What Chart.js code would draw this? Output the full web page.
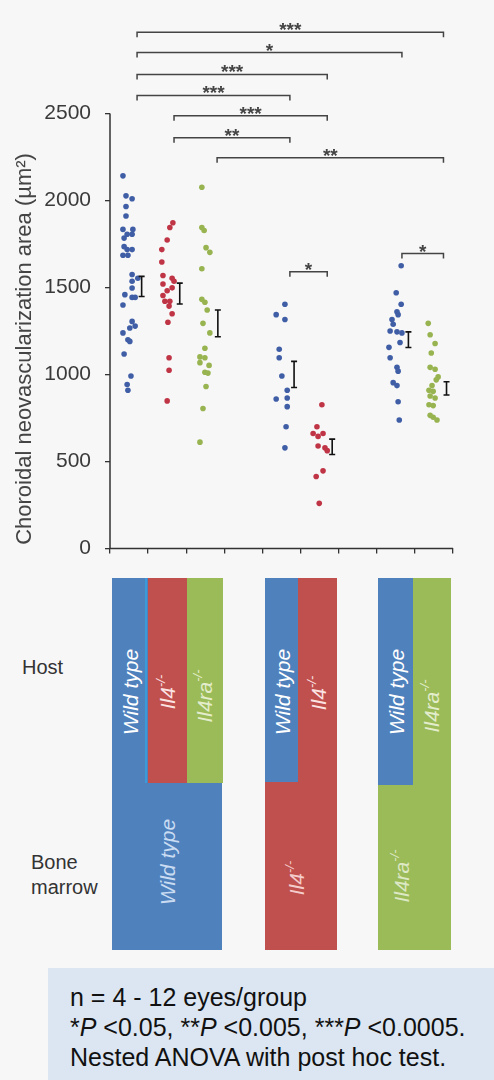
<!DOCTYPE html>
<html><head><meta charset="utf-8">
<script src="https://cdn.jsdelivr.net/npm/chart.js@4/dist/chart.umd.min.js"></script>
<style>
html,body{margin:0;padding:0;background:#f7f7f7;}
#wrap{position:relative;width:494px;height:1080px;overflow:hidden;background:#f7f7f7;font-family:'Liberation Sans',Arial,sans-serif;color:#333;}
#c{position:absolute;left:0;top:0;}
.rect{position:absolute;}
.lbl{position:absolute;white-space:nowrap;transform:translate(-50%,-50%) rotate(-90deg);font-style:italic;font-size:21px;line-height:1;}
.lbl sup{font-size:13px;position:relative;top:-3px;vertical-align:top;}
.side{position:absolute;font-size:20px;line-height:25px;color:#333;}
#note{position:absolute;left:48px;top:968px;width:424px;height:112px;background:#dce6f2;padding:0 0 0 22px;font-size:25px;line-height:30px;color:#111;box-sizing:content-box;}
#note div{white-space:nowrap;}
</style></head>
<body><div id="wrap">
<canvas id="c" width="494" height="575"></canvas>
</div>
<script>
// ---------------- data ----------------
const slotCount = 9;               // category slots on the x axis (3 gaps included)
const groupSlots = [0, 1, 2, 4, 5, 7, 8];
const yTickMax = 2500;

// WT host / WT bone marrow
const wtWtVals = [2142,2027,2010,1966,1911,1834,1834,1806,1806,1784,1735,1718,1718,1685,1685,1575,1553,1536,1497,1459,1443,1443,1399,1305,1278,1267,1239,1200,1190,1118,991,942,909];
const wtWtX    = [0.34,0.42,0.58,0.42,0.42,0.34,0.60,0.45,0.58,0.37,0.37,0.45,0.58,0.34,0.47,0.58,0.73,0.58,0.58,0.39,0.58,0.66,0.34,0.58,0.66,0.52,0.34,0.47,0.52,0.37,0.55,0.45,0.47];
// Il4-/- host / WT bone marrow
const il4WtVals = [1872,1845,1773,1718,1647,1569,1553,1536,1520,1498,1481,1454,1421,1421,1393,1349,1300,1096,1024,848];
const il4WtX    = [1.65,1.57,1.50,1.36,1.36,1.39,1.63,1.68,1.39,1.63,1.50,1.39,1.44,1.57,1.55,1.63,1.52,1.55,1.55,1.50];
// Il4ra-/- host / WT bone marrow
const il4raWtVals = [2076,1845,1828,1729,1702,1608,1432,1415,1371,1294,1239,1151,1101,1096,1068,1052,1013,1008,931,804,611];
const il4raWtX    = [2.41,2.41,2.47,2.52,2.62,2.41,2.41,2.49,2.55,2.44,2.62,2.49,2.36,2.49,2.36,2.60,2.49,2.57,2.52,2.44,2.36];
// WT host / Il4-/- bone marrow
const wtIl4Vals = [1404,1344,1316,1145,1096,991,909,865,859,815,699,578];
const wtIl4X    = [4.59,4.36,4.59,4.44,4.44,4.51,4.65,4.65,4.36,4.65,4.62,4.59];
// Il4-/- host / Il4-/- bone marrow
const il4Il4Vals = [826,699,661,644,661,589,578,562,446,413,259];
const il4Il4X    = [5.56,5.43,5.33,5.46,5.59,5.46,5.64,5.70,5.59,5.41,5.49];
// WT host / Il4ra-/- bone marrow
const wtIl4raVals = [1625,1470,1404,1360,1344,1316,1289,1250,1245,1239,1184,1156,1096,1041,1019,953,936,843,738];
const wtIl4raX    = [7.64,7.51,7.64,7.53,7.56,7.40,7.43,7.35,7.53,7.66,7.61,7.32,7.35,7.53,7.56,7.43,7.53,7.56,7.59];
// Il4ra-/- host / Il4ra-/- bone marrow
const il4raIl4raVals = [1294,1228,1178,1123,1041,1030,986,969,936,909,903,876,865,826,821,765,754,738];
const il4raIl4raX    = [8.35,8.40,8.53,8.43,8.40,8.53,8.61,8.56,8.45,8.37,8.48,8.40,8.53,8.37,8.48,8.40,8.48,8.58];

// mean +/- SEM per group (same order as groupSlots)
const groupMeans = [1506, 1465, 1294, 1000, 584, 1200, 920];
const groupSems  = [58, 60, 77, 75, 44, 45, 38];

// significance brackets (group slots compared, bracket height in µm², label)
const bracketFrom  = [0, 0, 0, 0, 1, 1, 2, 4, 7];
const bracketTo    = [8, 7, 5, 4, 5, 4, 8, 5, 8];
const bracketLevel = [2967, 2851, 2725, 2604, 2488, 2361, 2246, 1591, 1695];
const bracketStars = ['***', '*', '***', '***', '***', '**', '**', '*', '*'];

const yTitle = 'Choroidal neovascularization area (µm²)';

// ---------------- styles ----------------
const BLUE = '#4f81bd', RED = '#c0504d', GREEN = '#9bbb59';
const dotColors = ['#3f5ea6', '#c03546', '#98b450', '#3f5ea6', '#c03546', '#3f5ea6', '#98b450'];
const errOffset = 0.83;
const bracketAnchor = {0: 0.71, 1: 0.68, 2: 0.81, 4: 0.72, 5: 0.70, 7: 0.66, 8: 0.75};

function pts(vals, xs) { return vals.map((v, i) => ({x: xs[i], y: v})); }
const seriesList = [
  pts(wtWtVals, wtWtX), pts(il4WtVals, il4WtX), pts(il4raWtVals, il4raWtX),
  pts(wtIl4Vals, wtIl4X), pts(il4Il4Vals, il4Il4X),
  pts(wtIl4raVals, wtIl4raX), pts(il4raIl4raVals, il4raIl4raX)
];

const overlay = {
  id: 'overlay',
  afterDraw(chart) {
    const {ctx, scales: {x, y}} = chart;
    ctx.save();
    ctx.lineCap = 'butt';
    // axis lines
    ctx.strokeStyle = '#333'; ctx.lineWidth = 1.5;
    ctx.beginPath();
    ctx.moveTo(x.getPixelForValue(0), y.getPixelForValue(yTickMax));
    ctx.lineTo(x.getPixelForValue(0), y.getPixelForValue(0));
    ctx.lineTo(x.getPixelForValue(slotCount), y.getPixelForValue(0));
    ctx.stroke();
    // error bars
    ctx.strokeStyle = '#111'; ctx.lineWidth = 1.6;
    groupSlots.forEach((s, i) => {
      const px = x.getPixelForValue(s + errOffset);
      const hi = y.getPixelForValue(groupMeans[i] + groupSems[i]);
      const lo = y.getPixelForValue(groupMeans[i] - groupSems[i]);
      ctx.beginPath();
      ctx.moveTo(px, hi); ctx.lineTo(px, lo);
      ctx.moveTo(px - 3, hi); ctx.lineTo(px + 3, hi);
      ctx.moveTo(px - 3, lo); ctx.lineTo(px + 3, lo);
      ctx.stroke();
    });
    // brackets
    ctx.strokeStyle = '#444'; ctx.lineWidth = 1.5;
    ctx.fillStyle = '#444';
    ctx.font = 'bold 19px "Liberation Sans", Arial, sans-serif';
    ctx.textAlign = 'center'; ctx.textBaseline = 'alphabetic';
    bracketFrom.forEach((f, i) => {
      const t = bracketTo[i];
      const x1 = x.getPixelForValue(f + bracketAnchor[f]);
      const x2 = x.getPixelForValue(t + bracketAnchor[t]);
      const py = y.getPixelForValue(bracketLevel[i]);
      ctx.beginPath();
      ctx.moveTo(x1, py + 5); ctx.lineTo(x1, py); ctx.lineTo(x2, py); ctx.lineTo(x2, py + 5);
      ctx.stroke();
      ctx.fillText(bracketStars[i], (x1 + x2) / 2, py + 4);
    });
    // y title
    ctx.fillStyle = '#444';
    ctx.font = '22px "Liberation Sans", Arial, sans-serif';
    ctx.textBaseline = 'middle';
    ctx.translate(25, 349);
    ctx.rotate(-Math.PI / 2);
    ctx.fillText(yTitle, 0, 0);
    ctx.restore();
  }
};

new Chart(document.getElementById('c'), {
  type: 'scatter',
  data: {
    datasets: seriesList.map((d, i) => ({
      data: d, pointRadius: 2.8, pointHoverRadius: 2.8,
      pointBackgroundColor: dotColors[i], pointBorderWidth: 0, borderColor: dotColors[i]
    }))
  },
  options: {
    responsive: false, animation: false, devicePixelRatio: 1,
    layout: {padding: {top: 17, right: 41, left: 0, bottom: 0}},
    plugins: {legend: {display: false}, tooltip: {enabled: false}},
    scales: {
      x: {
        type: 'linear', min: 0, max: slotCount,
        ticks: {display: false, stepSize: 1},
        grid: {display: true, drawOnChartArea: false, drawTicks: true, tickLength: 5, color: '#333', lineWidth: 1.3},
        border: {display: false},
        afterFit(s) { s.height = 13; }
      },
      y: {
        min: 0, max: 3000,
        ticks: {stepSize: 500, color: '#3a3a3a', padding: 14,
          callback: v => String(v),
          font: {family: '"Liberation Sans", Arial, sans-serif', size: 21}},
        afterBuildTicks(s) { s.ticks = s.ticks.filter(t => t.value <= yTickMax); },
        grid: {display: true, drawOnChartArea: false, drawTicks: true, tickLength: 5, color: '#333', lineWidth: 1.3},
        border: {display: false},
        afterFit(s) { s.width = 110; }
      }
    }
  },
  plugins: [overlay]
});

// ---------------- schematic (host / bone marrow) ----------------
const wrap = document.getElementById('wrap');
function rect(l, t, w, h, c) {
  const d = document.createElement('div'); d.className = 'rect';
  Object.assign(d.style, {left: l + 'px', top: t + 'px', width: w + 'px', height: h + 'px', background: c});
  wrap.appendChild(d);
}
function label(cx, cy, html, color) {
  const d = document.createElement('div'); d.className = 'lbl';
  d.style.left = cx + 'px'; d.style.top = cy + 'px'; d.style.color = color;
  d.innerHTML = html; wrap.appendChild(d);
}
// group A
rect(112, 578, 36, 372, BLUE);
rect(148, 578, 39, 205, RED);
rect(187, 578, 36, 205, GREEN);
rect(112, 783, 110, 167, BLUE);
rect(145, 578, 2, 205, '#3c9ad8');
// group B
rect(265, 578, 33, 204, BLUE);
rect(298, 578, 39, 372, RED);
rect(265, 782, 72, 168, RED);
// group C
rect(378, 578, 35, 207, BLUE);
rect(413, 578, 38, 372, GREEN);
rect(378, 785, 73, 165, GREEN);

const WT = 'Wild type', IL4 = '<span>Il4</span><sup>-/-</sup>', IL4RA = '<span>Il4ra</span><sup>-/-</sup>';
label(130, 692, WT, '#ffffff');
label(167, 692, IL4, '#fbe3e3');
label(204, 696, IL4RA, '#e3edcc');
label(282, 692, WT, '#ffffff');
label(318, 693, IL4, '#fbe3e3');
label(396, 692, WT, '#ffffff');
label(431, 706, IL4RA, '#e3edcc');
label(167, 862, WT, '#c9dcf2');
label(296, 878, IL4, '#f4cccc');
label(401, 876, IL4RA, '#dde8c4');

const host = document.createElement('div'); host.className = 'side';
host.style.left = '22px'; host.style.top = '655px'; host.textContent = 'Host'; wrap.appendChild(host);
const bm = document.createElement('div'); bm.className = 'side';
bm.style.left = '31px'; bm.style.top = '850px'; bm.innerHTML = 'Bone<br>marrow'; wrap.appendChild(bm);

const note = document.createElement('div'); note.id = 'note';
note.innerHTML = '<div style="margin-top:14px">n = 4 - 12 eyes/group</div>' +
  '<div>*<i>P</i> &lt;0.05, **<i>P</i> &lt;0.005, ***<i>P</i> &lt;0.0005.</div>' +
  '<div>Nested ANOVA with post hoc test.</div>';
wrap.appendChild(note);
</script>
</body></html>
